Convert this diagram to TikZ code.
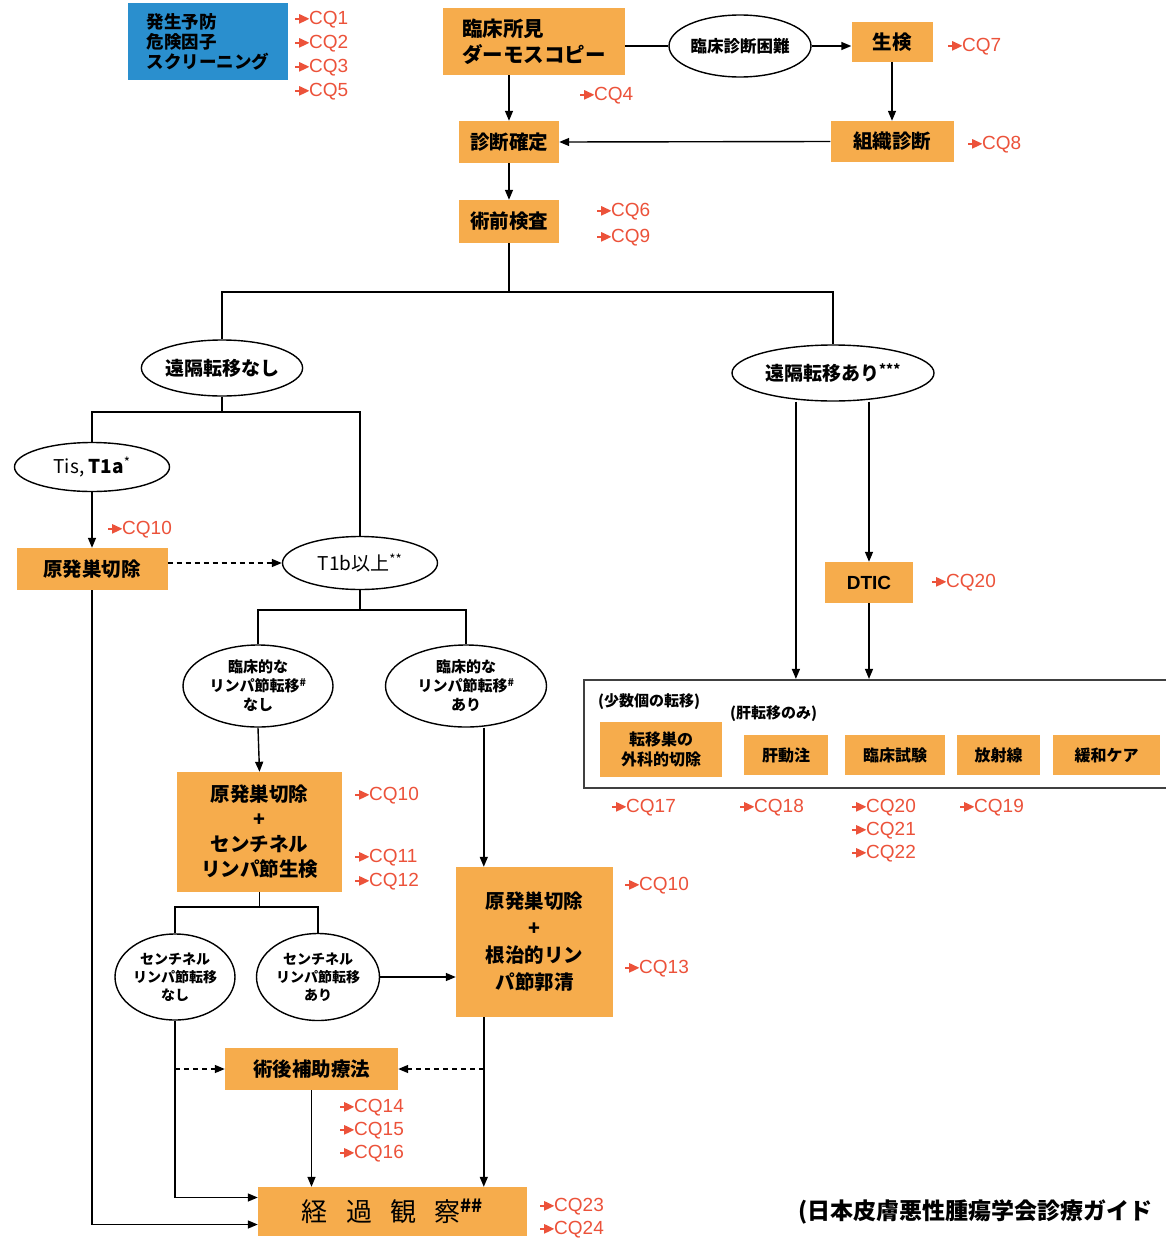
\documentclass[tikz,border=0pt]{standalone}
\usepackage{fontspec}
\setmainfont{Liberation Sans}
\newfontfamily\jp{Noto Sans CJK JP}
\usetikzlibrary{arrows.meta,shapes.geometric,calc}
\definecolor{org}{RGB}{246,172,76}
\definecolor{blu}{RGB}{42,143,206}
\definecolor{cqred}{RGB}{236,82,58}
\newcommand\cqarr{\tikz[baseline=-6pt, x=1pt, y=1pt]{\fill[cqred] (0,-1.3) rectangle (6,1.3); \fill[cqred] (4,-4.8) .. controls (8,-3) .. (14,0) .. controls (8,3) .. (4,4.8) -- cycle;}}
\newcommand\cqlab[1]{\cqarr CQ#1}
\tikzset{
  box/.style={fill=org, inner sep=0pt, align=center, font=\jp\bfseries\fontsize{19.5}{24}\selectfont},
  sbox/.style={fill=org, inner sep=0pt, align=center, font=\jp\bfseries\fontsize{16}{20}\selectfont},
  ell/.style={ellipse, draw, line width=1.4pt, fill=white, inner sep=0pt, align=center, font=\jp\bfseries\fontsize{19}{22}\selectfont},
  sell/.style={ell, font=\jp\bfseries\fontsize{15}{19}\selectfont},
  cqs/.style={text=cqred, anchor=west, inner sep=0pt, font=\fontsize{19}{20}\selectfont},
  ln/.style={line width=1.4pt},
  arr/.style={ln, -{Triangle[length=10pt,width=8pt]}},
  dsh/.style={arr, dashed, dash pattern=on 5pt off 4pt},
  plain/.style={inner sep=0pt, anchor=west}
}
\begin{document}
\begin{tikzpicture}[x=1pt,y=-1pt]
\useasboundingbox (0,0) rectangle (1165,1242);
\fill[white] (0,0) rectangle (1165,1242);

% top row
\node[fill=blu, minimum width=160, minimum height=77, inner sep=0pt, align=left,
  font=\jp\bfseries\fontsize{17.5}{20}\selectfont] (blue) at (208,41.5) {発生予防\\危険因子\\スクリーニング};
\node[cqs] (cq1) at (295,20) {\cqlab{1}};
\node[cqs] (cq2) at (295,44) {\cqlab{2}};
\node[cqs] (cq3) at (295,68) {\cqlab{3}};
\node[cqs] (cq5) at (295,92) {\cqlab{5}};

\node[box, minimum width=182, minimum height=67, align=left, font=\jp\bfseries\fontsize{20.5}{26}\selectfont] (rinsho) at (534,41.5) {臨床所見\\ダーモスコピー};
\node[ell, minimum width=142, minimum height=62, font=\jp\bfseries\fontsize{16.5}{18}\selectfont] (konnan) at (740,46) {臨床診断困難};
\node[box, minimum width=81, minimum height=40] (seiken) at (892,42) {生検};
\node[cqs] (cq7) at (948,47) {\cqlab{7}};
\node[box, minimum width=123, minimum height=41] (soshiki) at (892,141.5) {組織診断};
\node[cqs] (cq8) at (968,145) {\cqlab{8}};
\node[box, minimum width=100, minimum height=42] (kakutei) at (509,142) {診断確定};
\node[cqs] (cq4) at (580,96) {\cqlab{4}};
\node[box, minimum width=100, minimum height=43] (kensa) at (509,221.5) {術前検査};
\node[cqs] (cq6) at (597,212) {\cqlab{6}};
\node[cqs] (cq9) at (597,238) {\cqlab{9}};

\draw[ln] (rinsho.east |- konnan.west) -- (konnan.west);
\draw[arr] (konnan.east) -- (konnan.east -| seiken.west);
\draw[arr] (seiken.south) -- (soshiki.north);
\draw[arr] (soshiki.west) -- (kakutei.east);
\draw[arr] (rinsho.south -| kakutei.north) -- (kakutei.north);
\draw[arr] (kakutei.south) -- (kensa.north);

% first branch
\coordinate (b1) at (509,292);
\node[ell, minimum width=160, minimum height=56] (nasi) at (222,368) {遠隔転移なし};
\node[ell, minimum width=202, minimum height=56] (ari) at (833,373) {遠隔転移あり\textsuperscript{***}};
\draw[ln] (kensa.south) -- (b1);
\draw[ln] (nasi.north) |- (b1) -| (ari.north);

% second branch
\coordinate (b2) at (222,412);
\node[ell, minimum width=155, minimum height=49, font=\jp\fontsize{19}{22}\selectfont] (tis) at (92,467) {Tis, \textbf{T1a}\textsuperscript{*}};
\node[box, minimum width=151, minimum height=42] (gen1) at (92,569) {原発巣切除};
\node[cqs] (cq10a) at (108,530) {\cqlab{10}};
\node[ell, minimum width=155, minimum height=53, font=\jp\fontsize{19}{22}\selectfont] (t1b) at (360,563) {T1b以上\textsuperscript{**}};
\draw[ln] (nasi.south) -- (b2);
\draw[ln] (tis.north) |- (b2) -| (t1b.north);
\draw[arr] (tis.south) -- (gen1.north);
\draw[dsh] (gen1.east |- t1b.west) -- (t1b.west);

% third branch
\coordinate (b3) at (360,610);
\node[sell, minimum width=150, minimum height=82] (lnasi) at (258,686) {臨床的な\\リンパ節転移\textsuperscript{\#}\\なし};
\node[sell, minimum width=161, minimum height=82] (lari) at (466,686) {臨床的な\\リンパ節転移\textsuperscript{\#}\\あり};
\draw[ln] (t1b.south) -- (b3);
\draw[ln] (lnasi.north) |- (b3) -| (lari.north);

\node[box, minimum width=165, minimum height=120, font=\jp\bfseries\fontsize{19.5}{25}\selectfont] (sbx) at (259.5,832) {原発巣切除\\+\\センチネル\\リンパ節生検};
\node[cqs] (cq10b) at (355,796) {\cqlab{10}};
\node[cqs] (cq11) at (355,858) {\cqlab{11}};
\node[cqs] (cq12) at (355,882) {\cqlab{12}};
\draw[arr] (lnasi.south) -- (sbx.north);

\node[box, minimum width=157, minimum height=150, font=\jp\bfseries\fontsize{19.5}{27}\selectfont] (konji) at (534.5,942) {原発巣切除\\+\\根治的リン\\パ節郭清};
\node[cqs] (cq10c) at (625,886) {\cqlab{10}};
\node[cqs] (cq13) at (625,969) {\cqlab{13}};
\coordinate (kin) at ($(konji.north west)+(28,0)$);
\draw[arr] (lari.south -| kin) -- (kin);

% fourth branch
\coordinate (b4) at (259.5,907);
\node[sell, minimum width=120, minimum height=86, font=\jp\bfseries\fontsize{14}{18}\selectfont] (snasi) at (175,977) {センチネル\\リンパ節転移\\なし};
\node[sell, minimum width=123, minimum height=87, font=\jp\bfseries\fontsize{14}{18}\selectfont] (sari) at (318,977) {センチネル\\リンパ節転移\\あり};
\draw[ln] (sbx.south) -- (b4);
\draw[ln] (snasi.north) |- (b4) -| (sari.north);
\draw[arr] (sari.east) -- (sari.east -| konji.west);

\node[box, minimum width=173, minimum height=42] (hojo) at (311.5,1069) {術後補助療法};
\node[cqs] (cq14) at (340,1108) {\cqlab{14}};
\node[cqs] (cq15) at (340,1131) {\cqlab{15}};
\node[cqs] (cq16) at (340,1154) {\cqlab{16}};

\node[fill=org, inner sep=0pt, minimum width=269, minimum height=49, font=\jp\fontsize{26}{28}\selectfont] (keika) at (392.5,1211.5) {経\hspace{0.7em}過\hspace{0.7em}観\hspace{0.7em}察\textsuperscript{\bfseries\#\#}};
\node[cqs] (cq23) at (540,1207) {\cqlab{23}};
\node[cqs] (cq24) at (540,1230) {\cqlab{24}};
\coordinate (kup) at ($(keika.west)+(0,-14)$);
\coordinate (kdn) at ($(keika.west)+(0,13)$);

\draw[arr] (snasi.south) |- (kup);
\draw[arr] (gen1.south) |- (kdn);
\draw[dsh] (snasi.south |- hojo.west) -- (hojo.west);
\draw[arr] (kin |- konji.south) -- (kin |- keika.north);
\draw[dsh] (kin |- hojo.east) -- (hojo.east);
\draw[arr] (hojo.south) -- (hojo.south |- keika.north);

% right side
\node[box, minimum width=88, minimum height=41, font=\bfseries\fontsize{19}{20}\selectfont] (dtic) at (869,582.5) {DTIC};
\node[cqs] (cq20a) at (932,583) {\cqlab{20}};
\node[draw=black!75, line width=2.2pt, fill=white, inner sep=0pt, minimum width=591, minimum height=108] (frame) at (879.5,734) {};
\coordinate (fl) at ($(frame.north west)+(213,0)$);
\draw[arr] (ari.south -| fl) -- (fl);
\draw[arr] (ari.south -| dtic.north) -- (dtic.north);
\draw[arr] (dtic.south) -- (dtic.south |- frame.north);

\node[plain, font=\jp\bfseries\fontsize{15}{16}\selectfont] (shosu) at (598,702) {(少数個の転移)};
\node[plain, font=\jp\bfseries\fontsize{15}{16}\selectfont] (kanonly) at (730,714) {(肝転移のみ)};
\node[sbox, minimum width=122, minimum height=55] (ten) at (661,749.5) {転移巣の\\外科的切除};
\node[sbox, minimum width=84, minimum height=40] (kando) at (786,755) {肝動注};
\node[sbox, minimum width=100, minimum height=40] (shiken) at (895,755) {臨床試験};
\node[sbox, minimum width=83, minimum height=40] (hosha) at (998.5,755) {放射線};
\node[sbox, minimum width=107, minimum height=40] (kanwa) at (1106.5,755) {緩和ケア};
\node[cqs] (cq17) at (612,808) {\cqlab{17}};
\node[cqs] (cq18) at (740,808) {\cqlab{18}};
\node[cqs] (cq20b) at (852,808) {\cqlab{20}};
\node[cqs] (cq21) at (852,831) {\cqlab{21}};
\node[cqs] (cq22) at (852,854) {\cqlab{22}};
\node[cqs] (cq19) at (960,808) {\cqlab{19}};

\node[plain, font=\jp\bfseries\fontsize{23}{25}\selectfont] (src) at (798,1212) {(日本皮膚悪性腫瘍学会診療ガイド};
\end{tikzpicture}
\end{document}
